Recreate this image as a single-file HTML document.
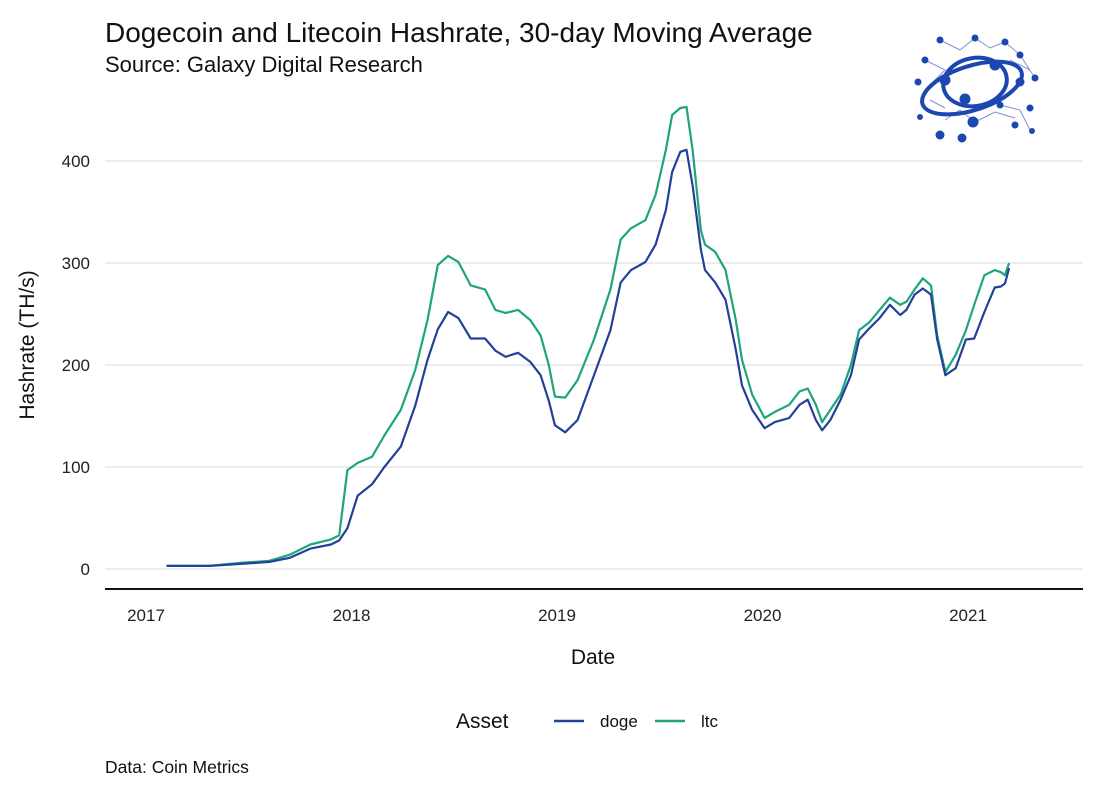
<!DOCTYPE html>
<html><head><meta charset="utf-8"><style>
body{margin:0;background:#fff;}
svg text{font-family:"Liberation Sans",sans-serif;}
</style></head><body>
<svg width="1100" height="789" viewBox="0 0 1100 789" xmlns="http://www.w3.org/2000/svg">
<rect width="1100" height="789" fill="#fff"/>
<text x="105" y="42" font-size="28" fill="#111">Dogecoin and Litecoin Hashrate, 30-day Moving Average</text>
<text x="105" y="72" font-size="22" fill="#111">Source: Galaxy Digital Research</text>
<g id="grid"></g>
<g id="yticks"></g>
<g id="xticks"></g>
<line x1="105" y1="589" x2="1083" y2="589" stroke="#111" stroke-width="2"/>
<g id="series"></g>
<text transform="translate(34,345) rotate(-90)" text-anchor="middle" font-size="21" fill="#111">Hashrate (TH/s)</text>
<text x="593" y="664" text-anchor="middle" font-size="21" fill="#111">Date</text>
<g>
<text x="456" y="728" font-size="21" fill="#111">Asset</text>
<line x1="554" y1="721" x2="584" y2="721" stroke="#23409a" stroke-width="2.5"/>
<text x="600" y="727" font-size="17" fill="#111">doge</text>
<line x1="655" y1="721" x2="685" y2="721" stroke="#1ea57b" stroke-width="2.5"/>
<text x="701" y="727" font-size="17" fill="#111">ltc</text>
</g>
<text x="105" y="773" font-size="17.5" fill="#111">Data: Coin Metrics</text>
<g fill="#1c47b0" stroke="#1c47b0">
<g stroke="#7d93cf" stroke-width="1" fill="none">
<path d="M940 40 L960 50 L975 38 L990 48 L1005 42 L1020 55 L1035 78 M925 60 L945 70 L930 85 M1010 60 L1030 70 M945 120 L960 110 L975 122 L995 112 L1015 118 M1000 105 L1020 110 L1030 130 M930 100 L945 108"/>
</g>
<ellipse cx="972" cy="88" rx="52" ry="22" transform="rotate(-18 972 88)" fill="none" stroke-width="4"/>
<ellipse cx="975" cy="82" rx="32" ry="24" transform="rotate(-10 975 82)" fill="none" stroke-width="4"/>
<circle cx="965" cy="99" r="5"/><circle cx="995" cy="65" r="5"/><circle cx="973" cy="122" r="5"/><circle cx="1020" cy="82" r="4"/>
<circle cx="945" cy="80" r="5"/><circle cx="918" cy="82" r="3"/><circle cx="940" cy="135" r="4"/><circle cx="962" cy="138" r="4"/>
<circle cx="1000" cy="105" r="3"/><circle cx="1030" cy="108" r="3"/><circle cx="1035" cy="78" r="3"/><circle cx="1005" cy="42" r="3"/>
<circle cx="940" cy="40" r="3"/><circle cx="975" cy="38" r="3"/><circle cx="1020" cy="55" r="3"/><circle cx="925" cy="60" r="3"/>
<circle cx="920" cy="117" r="2.5"/><circle cx="1015" cy="125" r="3"/><circle cx="1032" cy="131" r="2.5"/>
</g>
</svg>
<script>
const yTicks=[0,100,200,300,400];
const xTickLabels=[2017,2018,2019,2020,2021];
const dates=[2017.10,2017.31,2017.46,2017.60,2017.70,2017.80,2017.90,2017.94,2017.98,2018.03,2018.10,2018.16,2018.24,2018.31,2018.37,2018.42,2018.47,2018.52,2018.58,2018.65,2018.70,2018.75,2018.81,2018.87,2018.92,2018.96,2018.99,2019.04,2019.10,2019.18,2019.26,2019.31,2019.36,2019.43,2019.48,2019.53,2019.56,2019.60,2019.63,2019.66,2019.70,2019.72,2019.77,2019.82,2019.87,2019.90,2019.95,2020.01,2020.06,2020.13,2020.18,2020.22,2020.26,2020.29,2020.33,2020.38,2020.43,2020.47,2020.52,2020.57,2020.62,2020.67,2020.70,2020.74,2020.78,2020.82,2020.85,2020.89,2020.94,2020.99,2021.03,2021.08,2021.13,2021.16,2021.18,2021.20];
const doge=[3,3,5,7,11,20,24,28,40,72,83,100,120,160,205,235,252,246,226,226,214,208,212,203,190,165,141,134,146,190,234,281,293,301,318,352,389,409,411,376,313,293,281,264,215,180,156,138,144,148,161,166,146,136,146,166,190,225,236,246,259,249,254,269,275,269,225,190,197,225,226,252,276,277,280,295];
const ltc=[3,3,6,8,14,24,29,33,97,104,110,131,156,195,244,298,307,301,278,274,254,251,254,244,229,200,169,168,185,225,274,323,334,342,367,411,445,452,453,411,332,318,311,293,244,205,171,148,154,161,174,177,161,144,156,171,200,234,242,254,266,259,262,274,285,278,229,193,210,234,259,288,293,291,288,300];
const NS='http://www.w3.org/2000/svg';
const xs=d=>146+(d-2017)*205.5;
const ys=v=>569-v*1.02;
const grid=document.getElementById('grid'),yt=document.getElementById('yticks'),xt=document.getElementById('xticks'),ser=document.getElementById('series');
yTicks.forEach(v=>{
 const l=document.createElementNS(NS,'line');
 l.setAttribute('x1',105);l.setAttribute('x2',1083);l.setAttribute('y1',ys(v));l.setAttribute('y2',ys(v));
 l.setAttribute('stroke','#e6e6e6');l.setAttribute('stroke-width','1.5');
 
 
 grid.appendChild(l);
 const t=document.createElementNS(NS,'text');
 t.setAttribute('x',90);t.setAttribute('y',ys(v)+6);t.setAttribute('text-anchor','end');t.setAttribute('font-size','17');t.setAttribute('fill','#222');
 t.textContent=v;
 
 
 yt.appendChild(t);
});
xTickLabels.forEach(v=>{
 const t=document.createElementNS(NS,'text');
 t.setAttribute('x',xs(v));t.setAttribute('y',621);t.setAttribute('text-anchor','middle');t.setAttribute('font-size','17');t.setAttribute('fill','#222');
 t.textContent=v;
 
 
 xt.appendChild(t);
});
function line(vals,color,name){
 const p=document.createElementNS(NS,'path');
 p.setAttribute('d',vals.map((v,i)=>(i?'L':'M')+xs(dates[i]).toFixed(1)+' '+ys(v).toFixed(1)).join(' '));
 p.setAttribute('fill','none');p.setAttribute('stroke',color);p.setAttribute('stroke-width','2.2');p.setAttribute('stroke-linejoin','round');
 
 
 ser.appendChild(p);
}
line(ltc,'#1ea57b','ltc-line');
line(doge,'#23409a','doge-line');
</script>
</body></html>
